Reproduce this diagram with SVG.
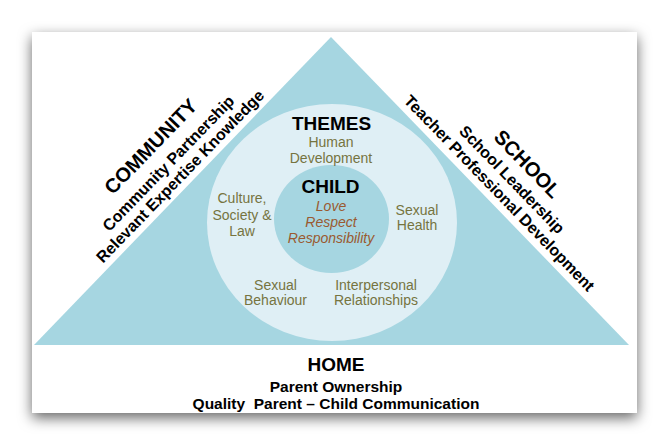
<svg xmlns="http://www.w3.org/2000/svg" width="669" height="445" viewBox="0 0 669 445">
<defs>
<filter id="sh" x="-10%" y="-10%" width="120%" height="125%">
<feDropShadow dx="0" dy="5" stdDeviation="7" flood-color="#000" flood-opacity="0.6"/>
</filter>
<style>
text{font-family:"Liberation Sans",Arial,sans-serif;text-anchor:middle}
.h{font-weight:bold;font-size:19px;fill:#000}
.hs{font-weight:bold;font-size:20px;fill:#000}
.s{font-weight:bold;font-size:16px;fill:#000}
.t{font-size:14px;fill:#76743F}
.v{font-size:14px;font-style:italic;fill:#9A5A30}
</style>
</defs>
<rect x="32" y="32" width="605" height="381" fill="#fff" filter="url(#sh)"/>
<g id="triangle"><polygon points="331,37 629,345 34,345" fill="#A6D6E1"/></g>
<g id="themes-circle"><ellipse cx="332" cy="222.5" rx="125" ry="118.5" fill="#DFEFF5"/></g>
<g id="child-circle"><ellipse cx="331.5" cy="219" rx="57.5" ry="54" fill="#A6D6E1"/></g>
<g id="connectors"></g>
<g id="community" transform="translate(182.5,191) rotate(-45.94)">
<text class="hs" x="10" y="-47">COMMUNITY</text>
<text class="s" x="10" y="-24">Community Partnership</text>
<text class="s" x="9" y="-6.5">Relevant Expertise Knowledge</text>
</g>
<g id="school" transform="translate(480,191) rotate(45.94)">
<text class="hs" x="13.6" y="-46">SCHOOL</text>
<text class="s" x="14" y="-25.4">School Leadership</text>
<text class="s" x="15" y="-7">Teacher Professional Development</text>
</g>
<g id="themes">
<text class="h" x="331.5" y="130">THEMES</text>
<text class="t" x="331" y="146.7">Human</text>
<text class="t" x="331" y="162.7">Development</text>
</g>
<g id="child">
<text class="h" x="330.5" y="193.3">CHILD</text>
<text class="v" x="331" y="211">Love</text>
<text class="v" x="331" y="226.7">Respect</text>
<text class="v" x="331" y="242.7">Responsibility</text>
</g>
<g id="culture">
<text class="t" x="242" y="203.3">Culture,</text>
<text class="t" x="242" y="220">Society &amp;</text>
<text class="t" x="242" y="236">Law</text>
</g>
<g id="sexual-health">
<text class="t" x="417" y="215">Sexual</text>
<text class="t" x="417" y="230">Health</text>
</g>
<g id="sexual-behaviour">
<text class="t" x="275.5" y="290">Sexual</text>
<text class="t" x="275.5" y="305">Behaviour</text>
</g>
<g id="interpersonal">
<text class="t" x="376" y="290">Interpersonal</text>
<text class="t" x="376" y="305">Relationships</text>
</g>
<g id="home">
<text class="h" x="336" y="370.7">HOME</text>
<text class="s" x="336" y="391.7" style="font-size:15.5px">Parent Ownership</text>
<text class="s" x="336" y="409.3" style="font-size:15.5px">Quality&#160; Parent – Child Communication</text>
</g>
</svg>
